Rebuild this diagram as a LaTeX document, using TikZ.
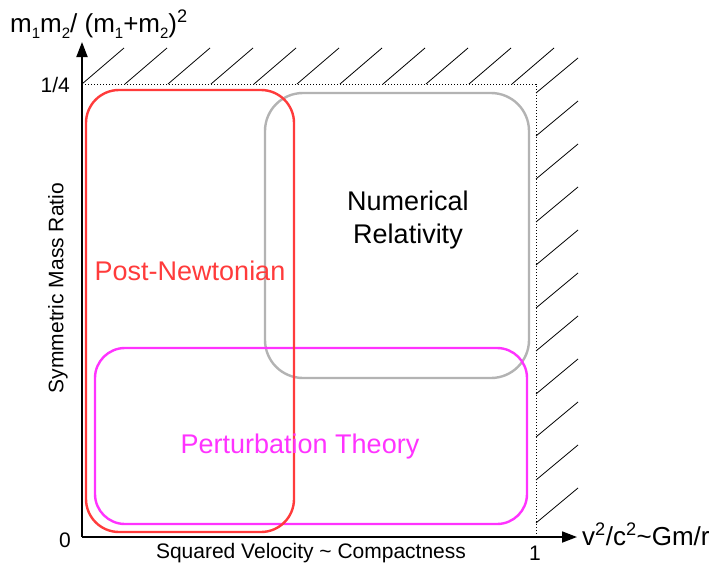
\documentclass[tikz,border=0pt]{standalone}
\usepackage{fontspec}
\setmainfont{Liberation Sans}
\usetikzlibrary{arrows.meta}
\definecolor{pnred}{HTML}{FF3B3B}
\definecolor{ptpink}{HTML}{FF33FF}
\definecolor{nrgray}{HTML}{B3B3B3}
\newcommand{\lowsub}[1]{\raisebox{-6pt}{\fontsize{15}{15}\selectfont #1}}

\begin{document}
\begin{tikzpicture}[x=1pt, y=-1pt,
    txt/.style={inner sep=0pt, font=\fontsize{21}{25}\selectfont},
    big/.style={inner sep=0pt, font=\fontsize{26}{31}\selectfont},
    area/.style={inner sep=0pt, align=center, font=\fontsize{27}{31}\selectfont},
    region/.style={line width=2.4pt},
    axis/.style={line width=1.8pt, -{Triangle[length=15pt, width=11pt]}},
    hatch/.style={line width=0.8pt},
    border/.style={line width=0.9pt, dash pattern=on 1.2pt off 1.8pt}
]
\useasboundingbox (0,0) rectangle (714,571);

\coordinate (origin) at (82,537);
\coordinate (ytip) at (82,42);
\coordinate (xtip) at (577,537);
\coordinate (topleft) at (82,84);
\coordinate (topright) at (536,84);
\coordinate (botright) at (536,537);

% forbidden region
\draw[border] (topleft) -- (topright) -- (botright);
\foreach \k in {0,...,10} {
  \draw[hatch] (82+43*\k,84) -- ++(42,-36);
  \draw[hatch] (536,93+43*\k) -- ++(42,-35);
}

% regions of validity
\draw[region, nrgray, rounded corners=38pt] (265,93) rectangle (529,378);
\draw[region, ptpink, rounded corners=30pt] (95,348) rectangle (527,524);
\draw[region, pnred, rounded corners=33pt] (86,90) rectangle (294,532);

\node[area, pnred] (pn) at (190,271) {Post-Newtonian};
\node[area] (nr) at (408,220) {Numerical\\[2pt]Relativity};
\node[area, ptpink] (pt) at (300,447) {Perturbation Theory};

% axes
\draw[axis] (origin) -- (ytip);
\draw[axis] (origin) -- (xtip);

\node[big, anchor=base west] (ylabel) at (10,32) {m\lowsub{1}m\lowsub{2}/ (m\lowsub{1}+m\lowsub{2})\textsuperscript{2}};
\node[big, anchor=base west] (xlabel) at (582,545) {v\textsuperscript{2}/c\textsuperscript{2}\textasciitilde Gm/r};
\node[txt, rotate=90] (yname) at (58,288) {Symmetric Mass Ratio};
\node[txt] (xname) at (311,553) {Squared Velocity \textasciitilde{} Compactness};
\node[txt, anchor=east] (quarter) at (70,85) {1/4};
\node[txt] (zero) at (65,540) {0};
\node[txt] (one) at (535,553) {1};
\end{tikzpicture}
\end{document}
